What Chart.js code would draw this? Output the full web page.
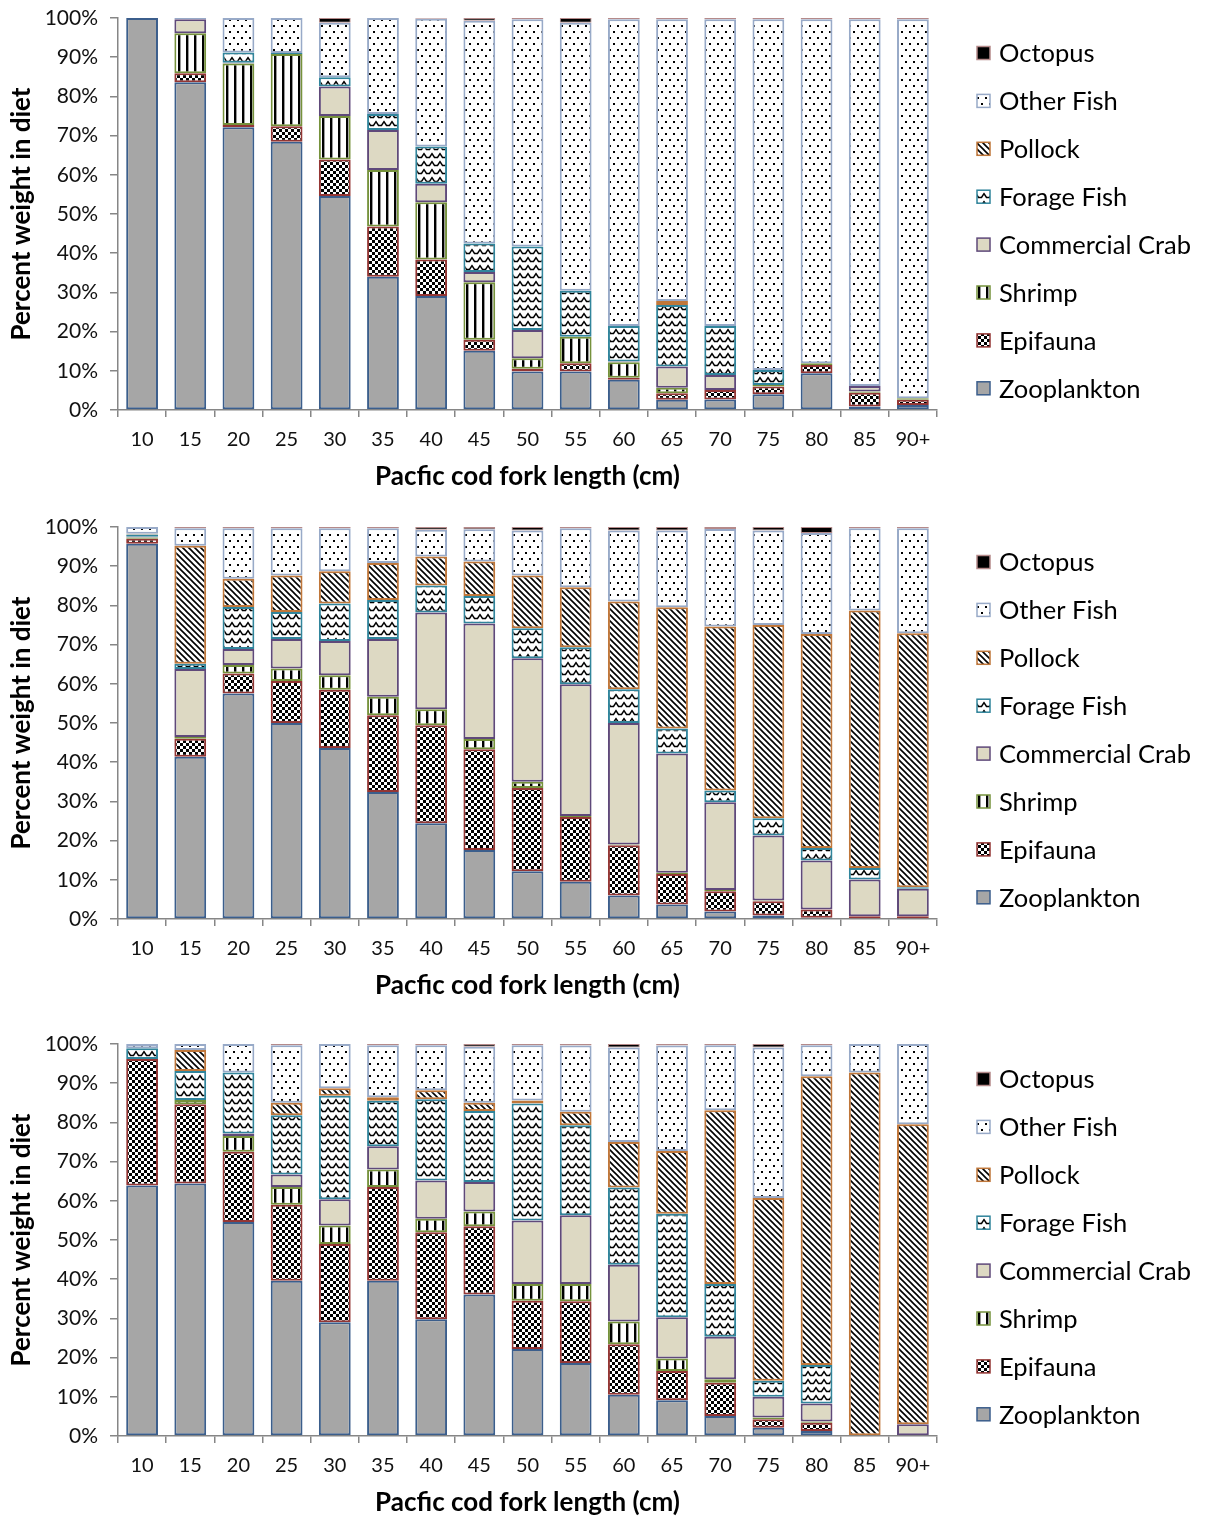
<!DOCTYPE html>
<html>
<head>
<meta charset="utf-8">
<script src="https://cdn.jsdelivr.net/npm/chart.js@4.4.1/dist/chart.umd.min.js"></script>
<style>
  html, body { margin: 0; padding: 0; background: #fff; }
  body { width: 1209px; height: 1518px; position: relative; overflow: hidden; }
  canvas { position: absolute; left: 0; }
</style>
</head>
<body>
<canvas id="c1" width="1209" height="492" style="top:0px"></canvas>
<canvas id="c2" width="1209" height="492" style="top:509px"></canvas>
<canvas id="c3" width="1209" height="492" style="top:1026px"></canvas>
<script>
// ---------- DATA ----------
const categories = ['10','15','20','25','30','35','40','45','50','55','60','65','70','75','80','85','90+'];
const seriesNames = ['Zooplankton','Epifauna','Shrimp','Commercial Crab','Forage Fish','Pollock','Other Fish','Octopus'];
const xTitle = 'Pacfic cod fork length (cm)';
const yTitle = 'Percent weight in diet';

// Chart 1 (top)
const c1Zooplankton = [100, 83.6, 72.1, 68.4, 54.6, 34.0, 29.1, 15.1, 9.8, 9.8, 7.7, 2.6, 2.7, 4.0, 9.4, 0.9, 1.3];
const c1Epifauna    = [0, 2.3, 0.6, 4.0, 9.3, 12.8, 9.3, 2.8, 0.7, 2.1, 0.5, 1.7, 2.4, 2.0, 2.1, 3.5, 1.3];
const c1Shrimp      = [0, 10.2, 15.7, 18.4, 11.1, 14.4, 14.6, 14.7, 2.7, 6.8, 4.0, 1.4, 0, 0.4, 0.4, 0.3, 0.4];
const c1Crab        = [0, 3.6, 0.2, 0, 7.5, 10.2, 4.7, 2.6, 7.2, 0, 0.2, 5.4, 3.8, 0, 0, 1.4, 0];
const c1Forage      = [0, 0, 2.6, 0.3, 2.4, 4.1, 9.5, 7.3, 21.3, 11.7, 9.0, 15.7, 12.5, 3.8, 0, 0, 0];
const c1Pollock     = [0, 0, 0, 0, 0, 0, 0, 0, 0, 0, 0, 1.0, 0, 0, 0, 0, 0];
const c1OtherFish   = [0, 0.3, 8.8, 8.9, 13.9, 24.5, 32.6, 56.8, 58.0, 68.4, 78.3, 71.9, 78.3, 89.5, 87.8, 93.6, 96.7];
const c1Octopus     = [0, 0, 0, 0, 1.2, 0, 0.2, 0.7, 0.3, 1.2, 0.3, 0.3, 0.3, 0.3, 0.3, 0.3, 0.3];

// Chart 2 (middle)
const c2Zooplankton = [95.7, 41.4, 57.5, 50.0, 43.6, 32.4, 24.4, 17.6, 12.2, 9.5, 6.0, 3.7, 1.9, 0.9, 0.3, 0.2, 0.2];
const c2Epifauna    = [1.3, 4.6, 5.1, 10.7, 14.9, 19.6, 25.0, 25.7, 21.2, 16.5, 12.8, 7.8, 5.2, 3.6, 2.1, 0.5, 0.5];
const c2Shrimp      = [0.3, 0.4, 2.2, 3.2, 3.7, 4.7, 4.1, 2.6, 1.6, 0.3, 0.2, 0.3, 0.3, 0.2, 0, 0, 0];
const c2Crab        = [0.2, 17.4, 4.1, 7.5, 8.7, 14.7, 24.7, 29.5, 31.5, 33.6, 31.0, 30.4, 22.4, 16.6, 12.5, 9.4, 7.0];
const c2Forage      = [0.6, 1.3, 10.7, 6.9, 9.6, 10.0, 6.9, 7.0, 7.7, 9.4, 8.6, 6.4, 3.0, 4.4, 3.2, 2.9, 0.4];
const c2Pollock     = [0.2, 30.1, 7.2, 9.3, 8.2, 9.4, 7.4, 8.8, 13.4, 15.3, 22.4, 30.9, 41.8, 49.3, 54.6, 65.7, 64.8];
const c2OtherFish   = [1.7, 4.5, 12.9, 12.1, 11.0, 8.9, 6.8, 8.2, 11.5, 15.1, 18.1, 19.6, 24.9, 24.1, 25.8, 21.0, 26.8];
const c2Octopus     = [0, 0.3, 0.3, 0.3, 0.3, 0.3, 0.7, 0.6, 0.9, 0.3, 0.9, 0.9, 0.5, 0.9, 1.5, 0.3, 0.3];

// Chart 3 (bottom)
const c3Zooplankton = [63.9, 64.4, 54.6, 39.6, 29.0, 39.6, 29.8, 36.1, 22.2, 18.6, 10.5, 9.1, 5.1, 2.1, 1.3, 0, 0];
const c3Epifauna    = [32.3, 20.2, 17.9, 19.4, 20.0, 23.9, 22.2, 17.4, 12.3, 15.8, 12.9, 7.5, 8.5, 2.2, 2.1, 0, 0];
const c3Shrimp      = [0, 1.1, 4.0, 4.5, 4.7, 4.5, 3.4, 3.8, 4.3, 4.4, 5.8, 3.2, 0.9, 0.4, 0.3, 0, 0];
const c3Crab        = [0, 0, 0.7, 3.2, 6.7, 5.9, 9.8, 7.5, 16.2, 17.5, 14.5, 10.5, 10.8, 5.3, 4.6, 0, 3.0];
const c3Forage      = [2.7, 7.4, 15.5, 15.1, 26.4, 11.6, 20.7, 18.1, 29.8, 23.0, 19.7, 26.4, 13.5, 4.1, 9.8, 0, 0];
const c3Pollock     = [0, 5.4, 0, 3.2, 1.9, 0.9, 2.3, 2.1, 0.8, 3.4, 11.6, 16.0, 44.3, 46.6, 73.7, 92.7, 76.5];
const c3OtherFish   = [1.1, 1.5, 7.3, 14.7, 11.3, 13.3, 11.5, 14.3, 14.1, 16.9, 24.1, 26.9, 16.6, 38.4, 7.9, 7.3, 20.5];
const c3Octopus     = [0, 0, 0, 0.3, 0, 0.3, 0.3, 0.7, 0.3, 0.4, 0.9, 0.4, 0.3, 0.9, 0.3, 0, 0];

// ---------- STYLES ----------
function makePattern(w, h, draw) {
  const c = document.createElement('canvas');
  c.width = w; c.height = h;
  const g = c.getContext('2d');
  g.fillStyle = '#ffffff'; g.fillRect(0, 0, w, h);
  g.fillStyle = '#000000'; g.strokeStyle = '#000000';
  draw(g);
  return g.createPattern(c, 'repeat');
}
const patChecker = makePattern(6, 6, g => { g.fillRect(0,0,3,3); g.fillRect(3,3,3,3); });
const patStripes = makePattern(8, 4, g => { g.fillRect(2,0,2.4,4); });
const patWave = makePattern(8, 8, g => {
  g.lineWidth = 1.5; g.beginPath();
  g.moveTo(-0.5,1); g.lineTo(2.5,5.5); g.lineTo(5.5,5.5); g.lineTo(8.5,1); g.stroke();
});
const patDiag = makePattern(6, 6, g => {
  g.lineWidth = 1.6; g.beginPath();
  g.moveTo(-1,-1); g.lineTo(7,7);
  g.moveTo(-1,5); g.lineTo(1,7);
  g.moveTo(5,-1); g.lineTo(7,1);
  g.stroke();
});
const patDots = makePattern(8, 12, g => { g.fillRect(1,1,2,2); g.fillRect(5,7,2,2); });

const fills = ['#a6a6a6', patChecker, patStripes, '#ddd9c3', patWave, patDiag, patDots, '#000000'];
const borders = ['#3b5e8c', '#943634', '#76923c', '#5f497a', '#31859c', '#c0773a', '#98aac8', '#b58a8a'];
const borderWidths = [2, 2, 2, 2, 2, 2, 2, 1];

// ---------- LEGEND ----------
const sideLegend = {
  id: 'sideLegend',
  afterDraw(chart) {
    const ctx = chart.ctx;
    const ds = chart.data.datasets.slice().reverse();
    ctx.save();
    ctx.font = '25.5px Lato';
    ctx.textBaseline = 'middle';
    ctx.textAlign = 'left';
    ds.forEach((d, i) => {
      const y = 53 + i * 47.9;
      ctx.fillStyle = d.backgroundColor;
      ctx.fillRect(977, y - 6.5, 13, 13);
      ctx.strokeStyle = d.borderColor;
      ctx.lineWidth = 1.5;
      ctx.strokeRect(977, y - 6.5, 13, 13);
      ctx.fillStyle = '#000';
      ctx.fillText(d.label, 999, y + 1);
    });
    ctx.restore();
  }
};

function buildChart(id, seriesArrays) {
  const datasets = seriesArrays.map((arr, i) => ({
    label: seriesNames[i],
    data: arr,
    backgroundColor: fills[i],
    borderColor: borders[i],
    borderWidth: borderWidths[i],
    borderSkipped: false,
    categoryPercentage: 1.0,
    barPercentage: 0.66
  }));
  return new Chart(document.getElementById(id), {
    type: 'bar',
    data: { labels: categories, datasets },
    plugins: [sideLegend],
    options: {
      responsive: false,
      animation: false,
      devicePixelRatio: 1,
      layout: { padding: { top: 18, right: 272, left: 0, bottom: 0 } },
      plugins: { legend: { display: false }, tooltip: { enabled: false } },
      scales: {
        x: {
          stacked: true,
          grid: { display: true, drawOnChartArea: false, drawTicks: true, tickLength: 7, color: '#868686', lineWidth: 1.5, offset: true },
          border: { display: true, color: '#868686', width: 1.5 },
          ticks: { color: '#111', font: { family: 'Lato', size: 20 }, padding: 11, maxRotation: 0, autoSkip: false },
          title: { display: true, text: xTitle, color: '#000', font: { family: 'Lato', size: 26, weight: 'bold' }, padding: { top: 0, bottom: 0 } },
          afterFit: s => { s.height = 82; s.paddingLeft = 0; s.paddingRight = 0; }
        },
        y: {
          stacked: true,
          min: 0, max: 100,
          ticks: { stepSize: 10, callback: v => v + '%', color: '#111', font: { family: 'Lato', size: 21 }, padding: 12 },
          grid: { display: true, drawOnChartArea: false, drawTicks: true, tickLength: 8, color: '#868686', lineWidth: 1.5 },
          border: { display: true, color: '#868686', width: 1.5 },
          title: { display: true, text: yTitle, color: '#000', font: { family: 'Lato', size: 26, weight: 'bold' }, padding: { top: 6, bottom: 0 } },
          afterFit: s => { s.width = 118; s.paddingTop = 0; s.paddingBottom = 0; }
        }
      }
    }
  });
}

buildChart('c1', [c1Zooplankton, c1Epifauna, c1Shrimp, c1Crab, c1Forage, c1Pollock, c1OtherFish, c1Octopus]);
buildChart('c2', [c2Zooplankton, c2Epifauna, c2Shrimp, c2Crab, c2Forage, c2Pollock, c2OtherFish, c2Octopus]);
buildChart('c3', [c3Zooplankton, c3Epifauna, c3Shrimp, c3Crab, c3Forage, c3Pollock, c3OtherFish, c3Octopus]);
</script>
</body>
</html>
